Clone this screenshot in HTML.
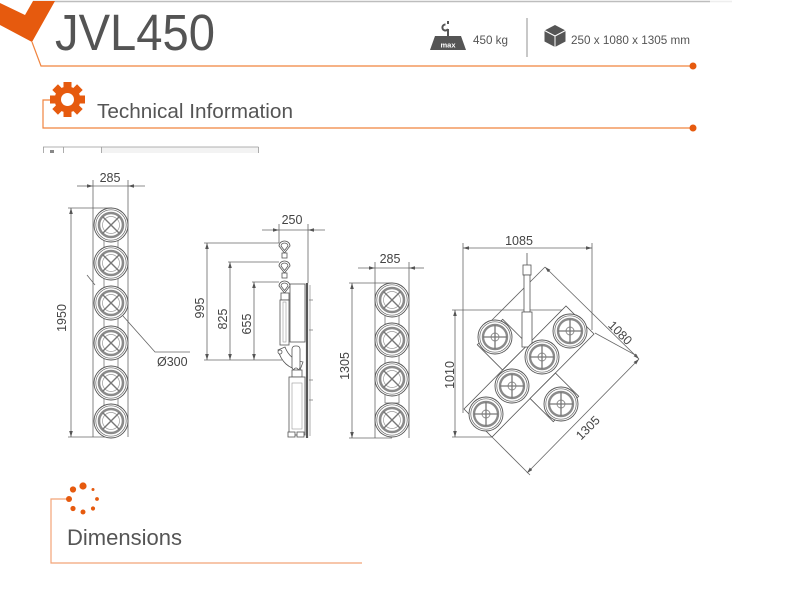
<!DOCTYPE html>
<html><head><meta charset="utf-8"><style>
html,body{margin:0;padding:0;background:#fff;}
body{width:800px;height:600px;overflow:hidden;}
svg{display:block;}
text{font-family:"Liberation Sans",sans-serif;}
</style></head><body>
<svg width="800" height="600" viewBox="0 0 800 600" xmlns="http://www.w3.org/2000/svg">
<defs>
<marker id="ar" viewBox="0 0 10 6" refX="10" refY="3" markerWidth="6" markerHeight="3.6" markerUnits="userSpaceOnUse" orient="auto-start-reverse"><path d="M0,0 L10,3 L0,6z" fill="#555"/></marker>
<g id="padX">
<circle r="17" fill="#fff" stroke="#555" stroke-width="0.9"/>
<circle r="15.2" fill="none" stroke="#666" stroke-width="0.7"/>
<circle r="12" fill="none" stroke="#8a8a8a" stroke-width="2.6"/>
<circle r="8.5" fill="none" stroke="#999" stroke-width="0.7"/>
<path d="M-8.5,-8.5 L8.5,8.5 M-8.5,8.5 L8.5,-8.5" stroke="#777" stroke-width="1.4"/>
</g>
<g id="padP">
<circle r="17" fill="#fff" stroke="#555" stroke-width="0.9"/>
<circle r="15.2" fill="none" stroke="#666" stroke-width="0.7"/>
<circle r="12" fill="none" stroke="#8a8a8a" stroke-width="2.4"/>
<circle r="4" fill="none" stroke="#888" stroke-width="0.9"/>
<path d="M-12,0 H12 M0,-12 V12" stroke="#777" stroke-width="1.3"/>
</g>
</defs>

<!-- header -->
<line x1="33" y1="1.5" x2="710" y2="1.5" stroke="#bdbdbd" stroke-width="1.5"/>
<line x1="710" y1="1.5" x2="732" y2="1.5" stroke="#eee" stroke-width="1.5"/>
<polygon points="0,3 25,15 33,1 55,1 32,42 0,25" fill="#e65a0e"/>
<polyline points="32,42 41,66 693,66" fill="none" stroke="#f0843f" stroke-width="1.2"/>
<circle cx="693" cy="66" r="3.5" fill="#e65a0e"/>
<text x="55" y="50" font-size="51" fill="#545454" textLength="160" lengthAdjust="spacingAndGlyphs">JVL450</text>

<!-- weight icon -->
<polygon points="430,50 466,50 461,36 435,36" fill="#555"/>
<text x="448" y="47.5" font-size="7.5" font-weight="bold" fill="#fff" text-anchor="middle">max</text>
<path d="M448,36 V29 M448,29 a3,3 0 1 1 -2.5,-4.5 M448,24 V21" fill="none" stroke="#555" stroke-width="2"/>
<text x="473" y="44" font-size="12" fill="#555" textLength="35" lengthAdjust="spacingAndGlyphs">450 kg</text>
<line x1="527" y1="18" x2="527" y2="57" stroke="#c8c8c8" stroke-width="2"/>
<!-- cube -->
<polygon points="555,25 565.5,30.5 565.5,41.5 555,47 544.5,41.5 544.5,30.5" fill="#555"/>
<path d="M544.5,30.5 L555,36 L565.5,30.5 M555,36 V47" fill="none" stroke="#fff" stroke-width="1"/>
<text x="571" y="44" font-size="12" fill="#555" textLength="119" lengthAdjust="spacingAndGlyphs">250 x 1080 x 1305 mm</text>

<!-- Technical information -->
<polyline points="51,100 43,100 43,128 693,128" fill="none" stroke="#f0843f" stroke-width="1.2"/>
<circle cx="693" cy="128" r="3.5" fill="#e65a0e"/>
<g transform="translate(67.5,99.5)" fill="#e65a0e">
<circle r="13"/>
<rect x="-4" y="-17.5" width="8" height="7"/>
<rect x="-4" y="-17.5" width="8" height="7" transform="rotate(45)"/>
<rect x="-4" y="-17.5" width="8" height="7" transform="rotate(90)"/>
<rect x="-4" y="-17.5" width="8" height="7" transform="rotate(135)"/>
<rect x="-4" y="-17.5" width="8" height="7" transform="rotate(180)"/>
<rect x="-4" y="-17.5" width="8" height="7" transform="rotate(225)"/>
<rect x="-4" y="-17.5" width="8" height="7" transform="rotate(270)"/>
<rect x="-4" y="-17.5" width="8" height="7" transform="rotate(315)"/>
<circle r="6.5" fill="#fff"/>
</g>
<text x="97" y="118" font-size="20.5" fill="#555" textLength="196" lengthAdjust="spacingAndGlyphs">Technical Information</text>

<!-- table fragment -->
<rect x="101.5" y="147" width="157" height="6" fill="#f3f3f3"/>
<line x1="43" y1="147" x2="258.5" y2="147" stroke="#999" stroke-width="0.8"/>
<path d="M43.5,147 V153 M63.5,147 V153 M101.5,147 V153 M258.5,147 V153" stroke="#999" stroke-width="0.8"/>
<rect x="50" y="150" width="4" height="3" fill="#888"/>

<!-- Drawing 1 -->
<g stroke="#666" stroke-width="0.8" fill="none">
<line x1="93" y1="180" x2="93" y2="437"/>
<line x1="128" y1="180" x2="128" y2="437"/>
<line x1="77" y1="186" x2="93" y2="186" marker-end="url(#ar)"/>
<line x1="145" y1="186" x2="128" y2="186" marker-end="url(#ar)"/>
<line x1="93" y1="186" x2="128" y2="186"/>
<line x1="68" y1="208" x2="112" y2="208"/>
<line x1="68" y1="437" x2="108" y2="437"/>
<line x1="71" y1="208" x2="71" y2="437" marker-start="url(#ar)" marker-end="url(#ar)"/>
<line x1="87" y1="275" x2="95" y2="285"/>
<polyline points="123,316 155,352 190,352"/>
</g>
<g stroke="#666" stroke-width="0.7" fill="#fff">
<rect x="104" y="239" width="14" height="9"/>
<rect x="104" y="278" width="14" height="10"/>
<rect x="104" y="318" width="14" height="10"/>
<rect x="104" y="358" width="14" height="10"/>
<rect x="104" y="398" width="14" height="10"/>
</g>
<use href="#padX" x="111" y="225"/>
<use href="#padX" x="111" y="263"/>
<use href="#padX" x="111" y="303"/>
<use href="#padX" x="111" y="343"/>
<use href="#padX" x="111" y="383"/>
<use href="#padX" x="111" y="421"/>
<text x="110" y="182" font-size="12.5" fill="#444" text-anchor="middle">285</text>
<text x="62" y="318" font-size="12.5" fill="#444" text-anchor="middle" dominant-baseline="central" transform="rotate(-90 62 318)">1950</text>
<text x="157" y="366" font-size="12.5" fill="#444">Ø300</text>

<!-- Drawing 2 -->
<g stroke="#666" stroke-width="0.8" fill="none">
<line x1="279" y1="224" x2="279" y2="243"/>
<line x1="308" y1="224" x2="308" y2="283"/>
<line x1="262" y1="230" x2="279" y2="230" marker-end="url(#ar)"/>
<line x1="325" y1="230" x2="308" y2="230" marker-end="url(#ar)"/>
<line x1="279" y1="230" x2="308" y2="230"/>
<line x1="204" y1="243" x2="279" y2="243"/>
<line x1="228" y1="262" x2="279" y2="262"/>
<line x1="252" y1="282" x2="279" y2="282"/>
<line x1="204" y1="360" x2="282" y2="360"/>
<line x1="207" y1="243" x2="207" y2="360" marker-start="url(#ar)" marker-end="url(#ar)"/>
<line x1="230" y1="262" x2="230" y2="360" marker-start="url(#ar)" marker-end="url(#ar)"/>
<line x1="254" y1="282" x2="254" y2="360" marker-start="url(#ar)" marker-end="url(#ar)"/>
</g>
<g stroke="#555" stroke-width="0.8" fill="#fff">
<path d="M279,246 a5.5,5 0 1 1 11,0 L284.5,253 Z"/>
<path d="M281,246 a3.5,3 0 1 1 7,0 L284.5,250.5 Z"/>
<rect x="282" y="253" width="5" height="5"/>
<path d="M279,266 a5.5,5 0 1 1 11,0 L284.5,273 Z"/>
<path d="M281,266 a3.5,3 0 1 1 7,0 L284.5,270.5 Z"/>
<rect x="282" y="273" width="5" height="5"/>
<path d="M279,286 a5.5,5 0 1 1 11,0 L284.5,293 Z"/>
<path d="M281,286 a3.5,3 0 1 1 7,0 L284.5,290.5 Z"/>
<rect x="281" y="293" width="8" height="7"/>
<rect x="290" y="284" width="15" height="58"/>
<rect x="280" y="300" width="9" height="45"/>
<rect x="283" y="302" width="3" height="40" fill="none" stroke="#999" stroke-width="0.6"/>
<path d="M278,350 Q283,368 300,370 L303,362 Q290,360 285,347 Z"/>
<rect x="292" y="346" width="8" height="24" rx="3"/>
<circle cx="280" cy="352" r="2"/>
<circle cx="296" cy="370" r="2"/>
<rect x="292" y="370" width="10" height="7"/>
<rect x="289" y="377" width="16" height="58"/>
<rect x="292" y="383" width="10" height="46" fill="none" stroke="#999" stroke-width="0.6"/>
<rect x="288" y="432" width="7" height="5"/>
<rect x="297" y="432" width="7" height="5"/>
</g>
<line x1="307" y1="283" x2="307" y2="438" stroke="#555" stroke-width="2.2"/>
<line x1="310" y1="285" x2="310" y2="436" stroke="#888" stroke-width="0.7"/>
<path d="M309,300 h4 M309,330 h4 M309,380 h4 M309,400 h4" stroke="#777" stroke-width="0.7"/>
<text x="292" y="224" font-size="12.5" fill="#444" text-anchor="middle">250</text>
<text x="200" y="308" font-size="12.5" fill="#444" text-anchor="middle" dominant-baseline="central" transform="rotate(-90 200 308)">995</text>
<text x="223" y="319" font-size="12.5" fill="#444" text-anchor="middle" dominant-baseline="central" transform="rotate(-90 223 319)">825</text>
<text x="247" y="324" font-size="12.5" fill="#444" text-anchor="middle" dominant-baseline="central" transform="rotate(-90 247 324)">655</text>

<!-- Drawing 3 -->
<g stroke="#666" stroke-width="0.8" fill="none">
<line x1="375" y1="262" x2="375" y2="438"/>
<line x1="409" y1="262" x2="409" y2="438"/>
<line x1="358" y1="268" x2="375" y2="268" marker-end="url(#ar)"/>
<line x1="424" y1="268" x2="409" y2="268" marker-end="url(#ar)"/>
<line x1="375" y1="268" x2="409" y2="268"/>
<line x1="349" y1="283" x2="392" y2="283"/>
<line x1="349" y1="438" x2="392" y2="438"/>
<line x1="352" y1="283" x2="352" y2="438" marker-start="url(#ar)" marker-end="url(#ar)"/>
</g>
<g stroke="#666" stroke-width="0.7" fill="#fff">
<rect x="385" y="314" width="14" height="10"/>
<rect x="385" y="354" width="14" height="10"/>
<rect x="385" y="393" width="14" height="10"/>
</g>
<use href="#padX" x="392" y="300"/>
<use href="#padX" x="392" y="340"/>
<use href="#padX" x="392" y="379"/>
<use href="#padX" x="392" y="420"/>
<text x="390" y="263" font-size="12.5" fill="#444" text-anchor="middle">285</text>
<text x="345" y="366" font-size="12.5" fill="#444" text-anchor="middle" dominant-baseline="central" transform="rotate(-90 345 366)">1305</text>

<!-- Drawing 4 -->
<g stroke="#666" stroke-width="0.8" fill="none">
<line x1="463" y1="243" x2="463" y2="413"/>
<line x1="592" y1="243" x2="592" y2="330"/>
<line x1="463" y1="248" x2="592" y2="248" marker-start="url(#ar)" marker-end="url(#ar)"/>
<line x1="452" y1="310" x2="570" y2="310"/>
<line x1="452" y1="437" x2="492" y2="437"/>
<line x1="455" y1="310" x2="455" y2="437" marker-start="url(#ar)" marker-end="url(#ar)"/>
<line x1="545" y1="267" x2="483" y2="329"/>
<line x1="545" y1="267" x2="639" y2="359" marker-start="url(#ar)" marker-end="url(#ar)"/>
<line x1="639" y1="359" x2="527" y2="473" marker-start="url(#ar)" marker-end="url(#ar)"/>
<line x1="492" y1="437" x2="530" y2="475"/>
<line x1="595" y1="333" x2="637" y2="356"/>
</g>
<g stroke="#555" stroke-width="0.8" fill="#fff">
<polygon points="464,409 492,437 594,334 566,306"/>
<polygon points="502.7,319.3 527.9,344.5 502.5,369.9 477.3,344.7"/>
<polygon points="555.45,373.05 578.7,396.3 553.3,421.7 530.05,398.45"/>
<line x1="527" y1="253" x2="527" y2="266"/>
<rect x="523" y="265" width="8" height="10"/>
<rect x="524" y="275" width="6" height="37"/>
<rect x="522" y="312" width="10" height="35"/>
</g>
<use href="#padP" x="495" y="337"/>
<use href="#padP" x="570" y="331"/>
<use href="#padP" x="542" y="357"/>
<use href="#padP" x="512" y="386"/>
<use href="#padP" x="486" y="414"/>
<use href="#padP" x="561" y="404"/>
<text x="519" y="245" font-size="12.5" fill="#444" text-anchor="middle">1085</text>
<text x="450" y="375" font-size="12.5" fill="#444" text-anchor="middle" dominant-baseline="central" transform="rotate(-90 450 375)">1010</text>
<text x="620" y="333" font-size="12.5" fill="#444" text-anchor="middle" dominant-baseline="central" transform="rotate(45 620 333)">1080</text>
<text x="588" y="428" font-size="12.5" fill="#444" text-anchor="middle" dominant-baseline="central" transform="rotate(-45 588 428)">1305</text>

<!-- Dimensions section -->
<polyline points="69,499 51,499 51,563 362,563" fill="none" stroke="#f2a477" stroke-width="1.2"/>
<g fill="#e65a0e">
<circle cx="83" cy="486" r="3.6"/>
<circle cx="73" cy="489.5" r="3.1"/>
<circle cx="93" cy="489.5" r="1.5"/>
<circle cx="69" cy="499" r="3"/>
<circle cx="97" cy="499" r="1.9"/>
<circle cx="73" cy="508.5" r="2.6"/>
<circle cx="83" cy="512" r="2.5"/>
<circle cx="93" cy="508.5" r="2.1"/>
</g>
<text x="67" y="545" font-size="22" fill="#555" textLength="115" lengthAdjust="spacingAndGlyphs">Dimensions</text>
</svg>
</body></html>
